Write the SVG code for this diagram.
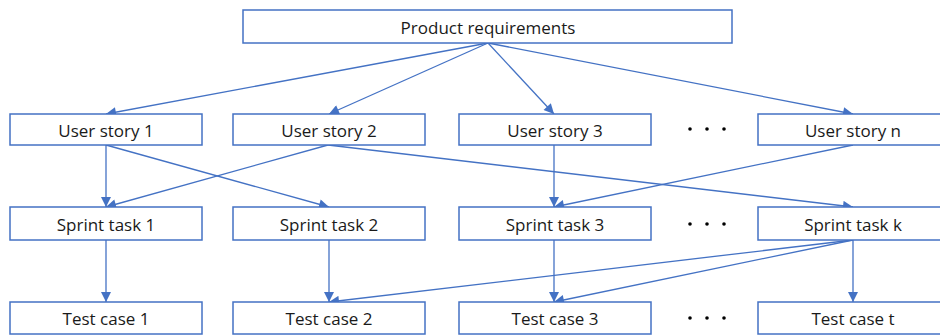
<svg xmlns="http://www.w3.org/2000/svg" width="940" height="335" viewBox="0 0 940 335">
  <style>
    .box { fill: #ffffff; stroke: #4472C4; stroke-width: 1.5; }
    .label { font-family: "Open Sans", "Noto Sans", "Liberation Sans", sans-serif; font-size: 17px; fill: #1a1a1a; text-anchor: middle; dominant-baseline: central; }
    .link { fill: none; stroke: #4472C4; stroke-width: 1.3; marker-end: url(#arrow); }
    .dot { fill: #000000; }
  </style>
  <defs>
    <marker id="arrow" viewBox="0 0 10 10" refX="10" refY="5" markerWidth="12" markerHeight="10" markerUnits="userSpaceOnUse" orient="auto">
      <path d="M0,0 L10,5 L0,10 z" fill="#4472C4"/>
    </marker>
  </defs>

  <!-- connectors -->
  <g id="connectors">
    <!-- requirements to user stories -->
    <line class="link" x1="488" y1="43" x2="106" y2="114"/>
    <line class="link" x1="488" y1="43" x2="329" y2="114"/>
    <line class="link" x1="488" y1="43" x2="554" y2="114"/>
    <line class="link" x1="488" y1="43" x2="853" y2="114"/>
    <!-- user stories to sprint tasks -->
    <line class="link" x1="106" y1="145" x2="106" y2="207"/>
    <line class="link" x1="106" y1="145" x2="329" y2="207"/>
    <line class="link" x1="328" y1="145" x2="106" y2="207"/>
    <line class="link" x1="328" y1="145" x2="853" y2="207"/>
    <line class="link" x1="554" y1="145" x2="554" y2="207"/>
    <line class="link" x1="853" y1="145" x2="554" y2="207"/>
    <!-- sprint tasks to test cases -->
    <line class="link" x1="106" y1="240" x2="106" y2="302"/>
    <line class="link" x1="329" y1="240" x2="329" y2="302"/>
    <line class="link" x1="554" y1="240" x2="554" y2="302"/>
    <line class="link" x1="853" y1="240" x2="853" y2="302"/>
    <line class="link" x1="853" y1="240" x2="329" y2="302"/>
    <line class="link" x1="853" y1="240" x2="554" y2="302"/>
  </g>

  <g id="product-requirements">
    <rect class="box" x="243" y="10" width="489" height="33"/>
    <text class="label" x="488" y="27">Product requirements</text>
  </g>

  <g id="user-story-1">
    <rect class="box" x="10" y="114" width="192" height="31"/>
    <text class="label" x="106" y="130">User story 1</text>
  </g>
  <g id="user-story-2">
    <rect class="box" x="233" y="114" width="192" height="31"/>
    <text class="label" x="329" y="130">User story 2</text>
  </g>
  <g id="user-story-3">
    <rect class="box" x="459" y="114" width="192" height="31"/>
    <text class="label" x="555" y="130">User story 3</text>
  </g>
  <g id="user-story-n">
    <rect class="box" x="758" y="114" width="200" height="31"/>
    <text class="label" x="853" y="130">User story n</text>
  </g>

  <g id="sprint-task-1">
    <rect class="box" x="10" y="207" width="192" height="33"/>
    <text class="label" x="106" y="224">Sprint task 1</text>
  </g>
  <g id="sprint-task-2">
    <rect class="box" x="233" y="207" width="192" height="33"/>
    <text class="label" x="329" y="224">Sprint task 2</text>
  </g>
  <g id="sprint-task-3">
    <rect class="box" x="459" y="207" width="192" height="33"/>
    <text class="label" x="555" y="224">Sprint task 3</text>
  </g>
  <g id="sprint-task-k">
    <rect class="box" x="758" y="207" width="200" height="33"/>
    <text class="label" x="853" y="224">Sprint task k</text>
  </g>

  <g id="test-case-1">
    <rect class="box" x="10" y="302" width="192" height="32"/>
    <text class="label" x="106" y="318">Test case 1</text>
  </g>
  <g id="test-case-2">
    <rect class="box" x="233" y="302" width="192" height="32"/>
    <text class="label" x="329" y="318">Test case 2</text>
  </g>
  <g id="test-case-3">
    <rect class="box" x="459" y="302" width="192" height="32"/>
    <text class="label" x="555" y="318">Test case 3</text>
  </g>
  <g id="test-case-t">
    <rect class="box" x="758" y="302" width="200" height="32"/>
    <text class="label" x="853" y="318">Test case t</text>
  </g>

  <!-- ellipses between columns -->
  <g id="ellipses">
    <circle class="dot" cx="690" cy="129" r="1.8"/>
    <circle class="dot" cx="707" cy="129" r="1.8"/>
    <circle class="dot" cx="724" cy="129" r="1.8"/>
    <circle class="dot" cx="690" cy="224" r="1.8"/>
    <circle class="dot" cx="707" cy="224" r="1.8"/>
    <circle class="dot" cx="724" cy="224" r="1.8"/>
    <circle class="dot" cx="690" cy="318" r="1.8"/>
    <circle class="dot" cx="707" cy="318" r="1.8"/>
    <circle class="dot" cx="724" cy="318" r="1.8"/>
  </g>
</svg>
